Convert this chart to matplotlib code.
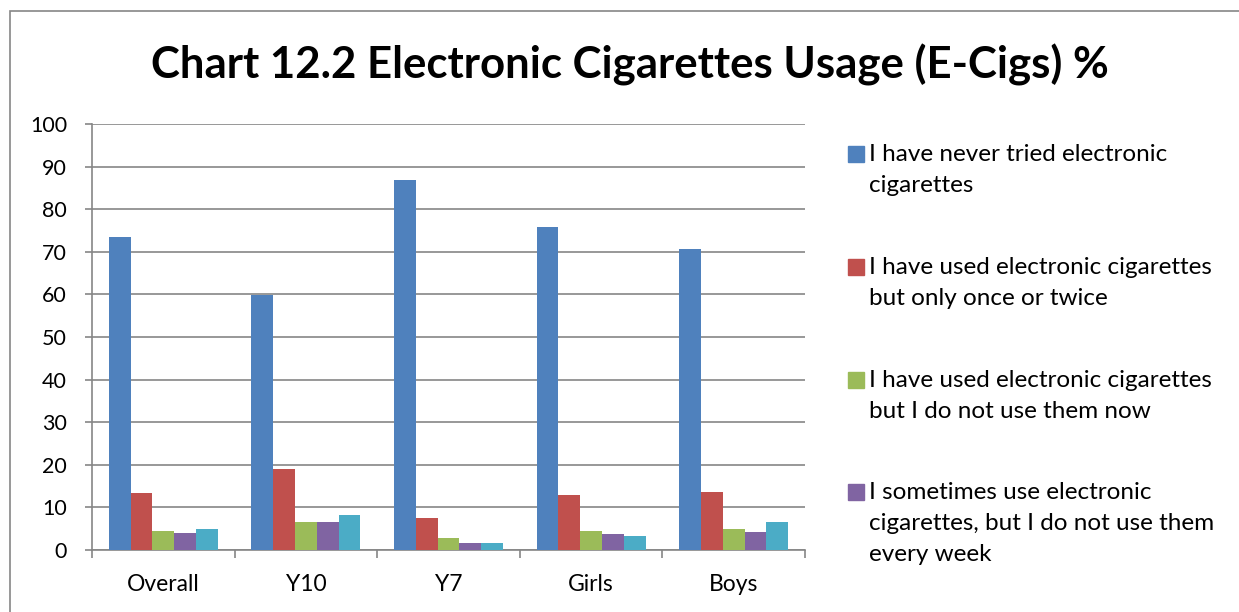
import matplotlib
matplotlib.use("Agg")
import matplotlib.pyplot as plt
from matplotlib.patches import Rectangle
import numpy as np

categories = ["Overall", "Y10", "Y7", "Girls", "Boys"]
series_labels = [
    "I have never tried electronic\ncigarettes",
    "I have used electronic cigarettes\nbut only once or twice",
    "I have used electronic cigarettes\nbut I do not use them now",
    "I sometimes use electronic\ncigarettes, but I do not use them\nevery week",
    "I use electronic cigarettes at least once a week",
]
never_tried = [73.4, 59.9, 86.8, 75.8, 70.7]
once_twice = [13.3, 19.0, 7.5, 12.9, 13.5]
not_now = [4.5, 6.6, 2.7, 4.4, 4.9]
sometimes = [3.9, 6.5, 1.6, 3.8, 4.2]
weekly = [4.9, 8.1, 1.6, 3.2, 6.6]
series_values = [never_tried, once_twice, not_now, sometimes, weekly]
colors = ["#4F81BD", "#C0504D", "#9BBB59", "#8064A2", "#4BACC6"]
legend_shown = 4
yticks = list(range(0, 101, 10))

FONT = "Lato"
plt.rcParams["font.family"] = [FONT, "DejaVu Sans"]

W, H = 1239, 612
fig = plt.figure(figsize=(W / 100, H / 100), dpi=100)

def fx(px):
    return px / W

def fy(py):
    return 1 - py / H

# outer chart border
fig.patches.append(Rectangle((fx(10), fy(700)), fx(1400), fy(11) - fy(700),
                             transform=fig.transFigure, fill=False,
                             edgecolor="#868686", linewidth=1.2))

ax = fig.add_axes([fx(92), fy(550), fx(805) - fx(92), fy(124) - fy(550)])

x = np.arange(len(categories))
w = 0.153
n = len(series_values)
for j, (vals, col) in enumerate(zip(series_values, colors)):
    ax.bar(x + (j - (n - 1) / 2) * w, vals, width=w, color=col,
           edgecolor="none", zorder=3)

ax.set_xlim(-0.5, len(categories) - 0.5)
ax.set_ylim(0, 100)
ax.set_yticks(yticks)
ax.set_yticklabels([str(t) for t in yticks], fontsize=15.5)
ax.yaxis.grid(True, color="#868686", linewidth=1.2, zorder=0)
ax.set_axisbelow(True)

ax.set_xticks(x)
ax.set_xticklabels(categories, fontsize=16.5)
ax.set_xticks(np.arange(len(categories) + 1) - 0.5, minor=True)
ax.tick_params(axis="x", which="major", length=0, pad=17)
ax.tick_params(axis="x", which="minor", length=6, color="#868686", width=1.2)
ax.tick_params(axis="y", length=5, color="#868686", width=1.2, pad=13)

for s in ["top", "right"]:
    ax.spines[s].set_visible(False)
for s in ["left", "bottom"]:
    ax.spines[s].set_color("#868686")
    ax.spines[s].set_linewidth(1.2)

fig.text(fx(630), fy(65), "Chart 12.2 Electronic Cigarettes Usage (E-Cigs) %",
         ha="center", va="center", fontsize=31.5, fontweight="bold")

# legend (first four entries visible)
leg_y = [154, 267, 380, 492]
for k in range(legend_shown):
    fig.patches.append(Rectangle((fx(848), fy(leg_y[k] + 8)), fx(16), fy(0) - fy(16),
                                 transform=fig.transFigure, color=colors[k]))
    fig.text(fx(869), fy(leg_y[k] - 10), series_labels[k], ha="left", va="top",
             fontsize=17.5, linespacing=1.6)

fig.savefig("out.png", dpi=100)
